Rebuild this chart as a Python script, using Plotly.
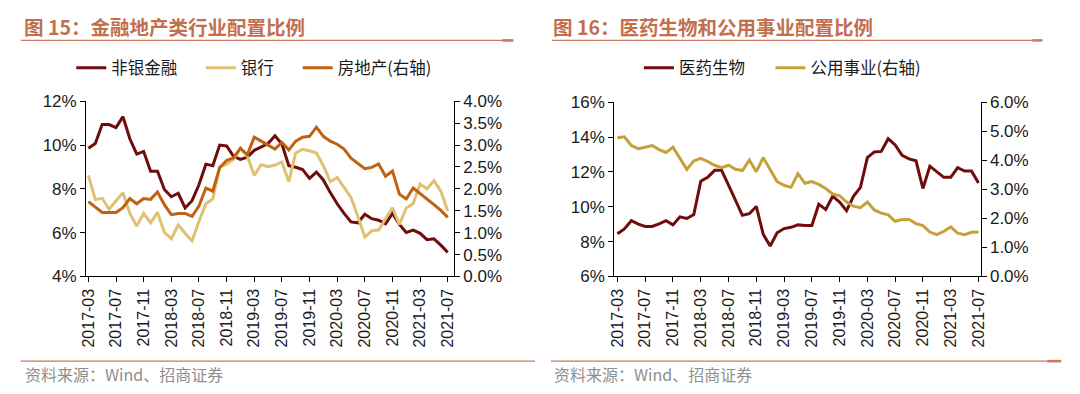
import plotly.graph_objects as go
import pandas as pd

months = list(pd.date_range("2017-03-01", periods=53, freq="MS").strftime("%Y-%m"))
tick_months = months[::4]

nonbank = [9.86, 10.07, 10.94, 10.94, 10.80, 11.30, 10.29, 9.59, 9.71, 8.81, 8.81, 7.97, 7.64, 7.80,
           7.13, 7.46, 8.19, 9.13, 9.06, 10.00, 9.96, 9.49, 9.35, 9.45, 9.76, 9.90, 10.07, 10.43,
           10.05, 9.06, 8.99, 8.88, 8.48, 8.77, 8.41, 7.83, 7.32, 6.88, 6.49, 6.45, 6.84, 6.64,
           6.57, 6.41, 6.88, 6.38, 6.01, 6.12, 5.97, 5.68, 5.72, 5.43, 5.10]
bank = [8.62, 7.51, 7.57, 7.07, 7.46, 7.83, 6.88, 6.30, 6.88, 6.45, 6.93, 6.01, 5.72, 6.35,
        5.97, 5.62, 6.52, 7.32, 7.54, 8.99, 9.13, 9.35, 9.86, 9.49, 8.62, 9.10, 9.01, 9.09,
        9.23, 8.33, 9.64, 9.81, 9.74, 9.64, 9.06, 8.33, 8.52, 8.04, 7.61, 6.74, 5.80, 6.09,
        6.12, 6.64, 7.14, 6.38, 7.13, 7.32, 8.23, 8.00, 8.38, 7.90, 6.99]
realestate = [1.71, 1.59, 1.46, 1.46, 1.46, 1.57, 1.78, 1.66, 1.78, 1.76, 1.93, 1.64, 1.41, 1.44,
              1.44, 1.37, 1.61, 2.02, 1.95, 2.49, 2.65, 2.71, 2.93, 2.78, 3.18, 3.09, 3.00, 2.91,
              3.06, 2.89, 3.09, 3.18, 3.20, 3.41, 3.20, 3.09, 3.02, 2.91, 2.70, 2.57, 2.46, 2.49,
              2.57, 2.29, 2.41, 1.88, 1.77, 2.02, 1.90, 1.77, 1.64, 1.51, 1.35]
pharma = [8.45, 8.73, 9.20, 9.00, 8.87, 8.87, 9.02, 9.20, 8.96, 9.42, 9.33, 9.55, 11.47, 11.69,
          12.09, 12.09, 11.24, 10.42, 9.51, 9.60, 10.02, 8.42, 7.75, 8.51, 8.75, 8.82, 8.96, 8.93,
          8.93, 10.15, 9.84, 10.60, 10.27, 9.78, 10.60, 11.11, 12.82, 13.15, 13.18, 13.91, 13.55,
          12.96, 12.75, 12.64, 11.05, 12.33, 12.02, 11.69, 11.69, 12.24, 12.05, 12.05, 11.36]
utilities = [4.78, 4.81, 4.51, 4.40, 4.45, 4.51, 4.37, 4.27, 4.45, 4.07, 3.69, 3.98, 4.07, 3.96,
             3.83, 3.75, 3.83, 3.69, 3.65, 4.01, 3.61, 4.09, 3.69, 3.27, 3.14, 3.07, 3.54, 3.21,
             3.27, 3.17, 3.03, 2.84, 2.78, 2.56, 2.42, 2.37, 2.56, 2.29, 2.18, 2.12, 1.90, 1.96,
             1.96, 1.82, 1.75, 1.53, 1.44, 1.55, 1.71, 1.49, 1.44, 1.52, 1.53]

title_left = "图 15：金融地产类行业配置比例"
title_right = "图 16：医药生物和公用事业配置比例"
source_text = "资料来源：Wind、招商证券"

C_DARK = "#6F0C0C"
C_BANK = "#DFC173"
C_RE = "#C0620F"
C_UTIL = "#C8A03A"
C_TITLE = "#C26F4E"
C_RULE = "#CC7A5D"

W, H = 1080, 394
def px(x):
    return x / W
def py(y):
    return 1 - y / H

CJK = "Noto Sans CJK SC"
NUM = "Liberation Sans, Arial"

fig = go.Figure()

def line(x, y, name, color, xa, ya, leg):
    fig.add_trace(go.Scatter(x=x, y=y, name=name, mode="lines",
                             line=dict(color=color, width=3),
                             xaxis=xa, yaxis=ya, legend=leg))

line(months, nonbank, "非银金融", C_DARK, "x", "y", "legend")
line(months, bank, "银行", C_BANK, "x", "y", "legend2")
line(months, realestate, "房地产(右轴)", C_RE, "x", "y2", "legend3")
line(months, pharma, "医药生物", C_DARK, "x2", "y3", "legend4")
line(months, utilities, "公用事业(右轴)", C_UTIL, "x2", "y4", "legend5")

axis_common = dict(showline=True, linecolor="black", linewidth=1, ticks="outside",
                   ticklen=5, tickcolor="black", tickwidth=1, showgrid=False, zeroline=False,
                   tickfont=dict(family=NUM, size=17, color="#1a1a1a"))
xcommon = dict(axis_common, type="category", tickmode="array", tickvals=tick_months,
               ticktext=tick_months, tickangle=-90)
xcommon["tickfont"] = dict(family=NUM, size=16, color="#1a1a1a")

ydom = [py(281), py(97)]
fig.update_layout(
    width=W, height=H, margin=dict(l=0, r=0, t=0, b=0),
    paper_bgcolor="white", plot_bgcolor="white",
    xaxis=dict(xcommon, domain=[px(81), px(453)], range=[-0.33, 52.9], anchor="y"),
    yaxis=dict(axis_common, domain=ydom, range=[4, 12], dtick=2, ticksuffix="%",
               anchor="x"),
    yaxis2=dict(axis_common, range=[0, 4], dtick=0.5, tickformat=".1f", ticksuffix="%",
                overlaying="y", side="right", anchor="x"),
    xaxis2=dict(xcommon, domain=[px(615), px(985.5)], range=[-0.47, 52.3], anchor="y3"),
    yaxis3=dict(axis_common, domain=[py(281), py(98)], range=[6, 16], dtick=2,
                ticksuffix="%", anchor="x2"),
    yaxis4=dict(axis_common, range=[0, 6], dtick=1, tickformat=".1f", ticksuffix="%",
                overlaying="y3", side="right", anchor="x2"),
    showlegend=True,
)

legend_pos = {"legend": 76, "legend2": 207, "legend3": 305, "legend4": 650, "legend5": 783}
for k, xv in legend_pos.items():
    fig.update_layout(**{k: dict(x=px(xv - 10), y=py(62), xanchor="left", yanchor="middle",
                                 orientation="h", bgcolor="rgba(0,0,0,0)", borderwidth=0,
                                 font=dict(family=CJK, size=16.5, color="#1a1a1a"))})

ann = []
for xv, t in [(16, title_left), (551, title_right)]:
    ann.append(dict(text="<b>" + t + "</b>", x=px(xv), y=py(18), xref="paper", yref="paper",
                    xanchor="left", yanchor="middle", showarrow=False,
                    font=dict(family=CJK, size=19.5, color=C_TITLE)))
for xv in [17, 552]:
    ann.append(dict(text=source_text, x=px(xv), y=py(383), xref="paper", yref="paper",
                    xanchor="left", yanchor="middle", showarrow=False,
                    font=dict(family=CJK, size=16, color="#8f8f8f")))
fig.update_layout(annotations=ann)

shapes = []
for x0, x1, y, w in [(15, 513, 33, 1.3), (502, 513, 33, 2.6), (552, 1048, 33, 1.3),
                     (1038, 1048, 33, 2.6), (15, 535, 370, 1.3), (551, 1067, 370, 1.3),
                     (1053, 1067, 370, 2.6)]:
    shapes.append(dict(type="line", xref="paper", yref="paper", x0=px(x0), x1=px(x1),
                       y0=py(y), y1=py(y), line=dict(color=C_RULE, width=w)))
fig.update_layout(shapes=shapes)

fig.write_html("out.html", post_script="document.body.style.margin='0';",
               config={"displayModeBar": False})
